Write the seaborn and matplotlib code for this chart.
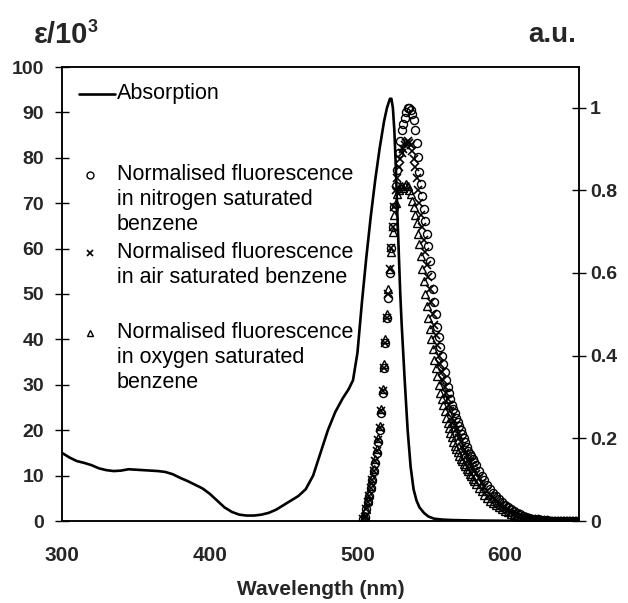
import numpy as np
import pandas as pd
import matplotlib
matplotlib.use("Agg")
import matplotlib.pyplot as plt
from matplotlib.lines import Line2D
import seaborn as sns

# ---------------- data ----------------
abs_wavelength = [300, 305, 310, 315, 320, 325, 330, 335, 340, 345, 350, 355, 360, 365, 370,
                  375, 380, 385, 390, 395, 400, 405, 410, 415, 420, 425, 430, 435, 440, 445,
                  450, 455, 460, 465, 470, 475, 480, 485, 490, 494, 497, 500, 503, 506, 509,
                  512, 515, 518, 520, 522, 523, 524, 525, 526, 527, 528, 529, 530, 532, 534,
                  536, 538, 540, 542, 545, 548, 552, 558, 565, 580, 600, 620, 650]
abs_eps = [15.0, 14.0, 13.2, 12.8, 12.3, 11.6, 11.2, 11.0, 11.1, 11.4, 11.3, 11.2, 11.1, 11.0, 10.8,
           10.3, 9.5, 8.8, 8.0, 7.2, 6.0, 4.5, 3.0, 2.0, 1.4, 1.2, 1.2, 1.4, 1.8, 2.5,
           3.5, 4.5, 5.5, 7.0, 10.0, 15.0, 20.0, 24.0, 27.0, 29.0, 31.0, 37.0, 48.0, 58.0, 67.0,
           75.0, 82.0, 88.0, 91.0, 93.0, 93.0, 91.0, 86.0, 78.0, 68.0, 59.0, 50.0, 43.0, 31.0, 20.0,
           12.0, 7.0, 4.5, 3.0, 1.8, 1.0, 0.5, 0.3, 0.2, 0.1, 0.05, 0.0, 0.0]

fl_wavelength = list(range(504, 581)) + list(range(582, 651, 2))

fl_nitrogen = [0.005, 0.01, 0.03, 0.045, 0.06, 0.08, 0.1, 0.12, 0.14, 0.165,
               0.19, 0.22, 0.26, 0.31, 0.37, 0.43, 0.49, 0.54, 0.6, 0.66,
               0.71, 0.76, 0.81, 0.85, 0.89, 0.92, 0.945, 0.96, 0.975, 0.99,
               1.0, 1.0, 0.995, 0.985, 0.97, 0.945, 0.915, 0.88, 0.845, 0.815,
               0.785, 0.755, 0.725, 0.695, 0.665, 0.63, 0.595, 0.56, 0.53, 0.5,
               0.47, 0.445, 0.42, 0.4, 0.38, 0.36, 0.34, 0.325, 0.31, 0.295,
               0.28, 0.27, 0.26, 0.25, 0.24, 0.23, 0.22, 0.21, 0.2, 0.19,
               0.18, 0.17, 0.163, 0.156, 0.149, 0.142, 0.135,
               0.122, 0.11, 0.098, 0.087, 0.077, 0.068, 0.06, 0.052, 0.045, 0.039,
               0.033, 0.028, 0.024, 0.02, 0.016, 0.013, 0.01, 0.008, 0.006, 0.005,
               0.004, 0.003, 0.002, 0.002, 0.001, 0.001, 0.001, 0.0, 0.0, 0.0,
               0.0, 0.0, 0.0, 0.0, 0.0]

fl_air = [0.005, 0.01, 0.03, 0.045, 0.06, 0.08, 0.1, 0.12, 0.145, 0.17,
          0.195, 0.225, 0.265, 0.315, 0.37, 0.43, 0.49, 0.55, 0.61, 0.66,
          0.71, 0.76, 0.8, 0.83, 0.855, 0.875, 0.89, 0.9, 0.91, 0.915,
          0.92, 0.915, 0.91, 0.895, 0.875, 0.855, 0.83, 0.8, 0.77, 0.74,
          0.71, 0.68, 0.65, 0.62, 0.59, 0.56, 0.53, 0.5, 0.475, 0.45,
          0.425, 0.4, 0.38, 0.36, 0.34, 0.325, 0.31, 0.295, 0.28, 0.265,
          0.25, 0.24, 0.23, 0.22, 0.21, 0.2, 0.19, 0.18, 0.172, 0.164,
          0.156, 0.148, 0.141, 0.134, 0.127, 0.12, 0.114,
          0.103, 0.092, 0.082, 0.073, 0.064, 0.057, 0.05, 0.044, 0.038, 0.033,
          0.028, 0.024, 0.02, 0.016, 0.013, 0.01, 0.008, 0.006, 0.005, 0.004,
          0.003, 0.002, 0.002, 0.001, 0.001, 0.001, 0.0, 0.0, 0.0, 0.0,
          0.0, 0.0, 0.0, 0.0, 0.0]

fl_oxygen = [0.005, 0.012, 0.03, 0.05, 0.065, 0.085, 0.105, 0.125, 0.15, 0.175,
             0.2, 0.23, 0.27, 0.32, 0.38, 0.44, 0.5, 0.56, 0.61, 0.65,
             0.7, 0.74, 0.77, 0.79, 0.8, 0.81, 0.81, 0.805, 0.81, 0.815,
             0.81, 0.8, 0.79, 0.775, 0.76, 0.74, 0.72, 0.695, 0.67, 0.64,
             0.61, 0.58, 0.55, 0.52, 0.49, 0.465, 0.44, 0.415, 0.39, 0.37,
             0.35, 0.33, 0.31, 0.295, 0.28, 0.265, 0.25, 0.238, 0.226, 0.214,
             0.202, 0.19, 0.182, 0.174, 0.166, 0.158, 0.15, 0.144, 0.138, 0.132,
             0.126, 0.12, 0.114, 0.108, 0.102, 0.096, 0.09,
             0.081, 0.072, 0.064, 0.056, 0.049, 0.043, 0.038, 0.033, 0.028, 0.024,
             0.021, 0.018, 0.015, 0.012, 0.01, 0.008, 0.006, 0.005, 0.004, 0.003,
             0.002, 0.001, 0.001, 0.001, 0.0, 0.0, 0.0, 0.0, 0.0, 0.0,
             0.0, 0.0, 0.0, 0.0, 0.0]

x_ticks = [300, 400, 500, 600]
left_ticks = [0, 10, 20, 30, 40, 50, 60, 70, 80, 90, 100]
right_ticks = [0, 0.2, 0.4, 0.6, 0.8, 1.0]
right_tick_labels = ["0", "0.2", "0.4", "0.6", "0.8", "1"]

legend_labels = [
    ["Absorption"],
    ["Normalised fluorescence", "in nitrogen saturated", "benzene"],
    ["Normalised fluorescence", "in air saturated benzene"],
    ["Normalised fluorescence", "in oxygen saturated", "benzene"],
]

# ---------------- style ----------------
sns.set_theme(style="white")
plt.rcParams["font.family"] = ["Liberation Sans", "DejaVu Sans"]
plt.rcParams["axes.edgecolor"] = "black"
plt.rcParams["axes.linewidth"] = 1.1

W, H = 628, 603
fig = plt.figure(figsize=(W / 100, H / 100), dpi=100)
ax = fig.add_axes([62 / W, 1 - 521 / H, (579 - 62) / W, (521 - 67) / H])

abs_df = pd.DataFrame({"wl": abs_wavelength, "eps": abs_eps})
sns.lineplot(data=abs_df, x="wl", y="eps", ax=ax, color="black", linewidth=1.9, sort=False)

ax.set_xlim(300, 650)
ax.set_ylim(0, 100)
ax.set_xticks(x_ticks)
ax.set_xticklabels([str(t) for t in x_ticks])
ax.set_yticks(left_ticks)
ax.set_yticklabels([str(t) for t in left_ticks])
ax.tick_params(axis="both", direction="inout", length=10, width=1.0, color="black")
ax.tick_params(axis="x", labelsize=15, pad=13)
ax.tick_params(axis="y", labelsize=14, pad=8)
for lbl in ax.get_xticklabels() + ax.get_yticklabels():
    lbl.set_fontweight("bold")
ax.set_xlabel("Wavelength (nm)", fontsize=15, fontweight="bold", labelpad=11)
ax.set_ylabel("")

ax2 = ax.twinx()
fl_df = pd.DataFrame({"wl": fl_wavelength, "n2": fl_nitrogen, "air": fl_air, "o2": fl_oxygen})
sns.lineplot(data=fl_df, x="wl", y="n2", ax=ax2, linestyle="", marker="o", markersize=5.8,
             markerfacecolor="none", markeredgecolor="black", markeredgewidth=1.0, color="black")
sns.lineplot(data=fl_df, x="wl", y="air", ax=ax2, linestyle="", marker="x", markersize=6,
             markeredgecolor="black", markeredgewidth=1.2, color="black")
sns.lineplot(data=fl_df, x="wl", y="o2", ax=ax2, linestyle="", marker="^", markersize=5.8,
             markerfacecolor="none", markeredgecolor="black", markeredgewidth=1.0, color="black")
ax2.set_ylim(0, 1.098)
ax2.set_yticks(right_ticks)
ax2.set_yticklabels(right_tick_labels)
ax2.tick_params(axis="y", direction="inout", length=10, width=1.0, color="black",
                labelsize=14, pad=3, right=True)
for lbl in ax2.get_yticklabels():
    lbl.set_fontweight("bold")
ax2.set_ylabel("")
ax2.grid(False)
ax.grid(False)
for sp in list(ax.spines.values()) + list(ax2.spines.values()):
    sp.set_color("black")
    sp.set_linewidth(1.1)

# ---------------- titles ----------------
def fx(px):
    return px / W

def fy(py):
    return 1 - py / H

t_eps = fig.text(fx(34), fy(43), "ε/10", fontsize=21, fontweight="bold", ha="left", va="baseline")
fig.canvas.draw()
bb = t_eps.get_window_extent(renderer=fig.canvas.get_renderer())
fig.text(bb.x1 / fig.bbox.width - 1 / W, fy(32), "3", fontsize=13, fontweight="bold",
         ha="left", va="baseline")
fig.text(fx(576), fy(42), "a.u.", fontsize=20, fontweight="bold", ha="right", va="baseline")

# ---------------- legend (manual, marker aligned to first line) ----------------
fig.add_artist(Line2D([fx(79), fx(115)], [fy(94), fy(94)], transform=fig.transFigure,
                      color="black", linewidth=1.9))
key_styles = [
    dict(marker="o", markersize=5, markerfacecolor="none", markeredgecolor="black", markeredgewidth=1.0),
    dict(marker="x", markersize=5, markeredgecolor="black", markeredgewidth=1.2),
    dict(marker="^", markersize=5, markerfacecolor="none", markeredgecolor="black", markeredgewidth=1.0),
]
first_line_y = [93, 175, 253, 333]
line_step = 24.5
for i, lines in enumerate(legend_labels):
    y0 = first_line_y[i]
    if i > 0:
        fig.add_artist(Line2D([fx(90)], [fy(y0)], transform=fig.transFigure,
                              linestyle="", **key_styles[i - 1]))
    for j, txt in enumerate(lines):
        fig.text(fx(117), fy(y0 + j * line_step), txt, fontsize=15.5, ha="left",
                 va="center", color="black")

fig.savefig("out.png", dpi=100)
